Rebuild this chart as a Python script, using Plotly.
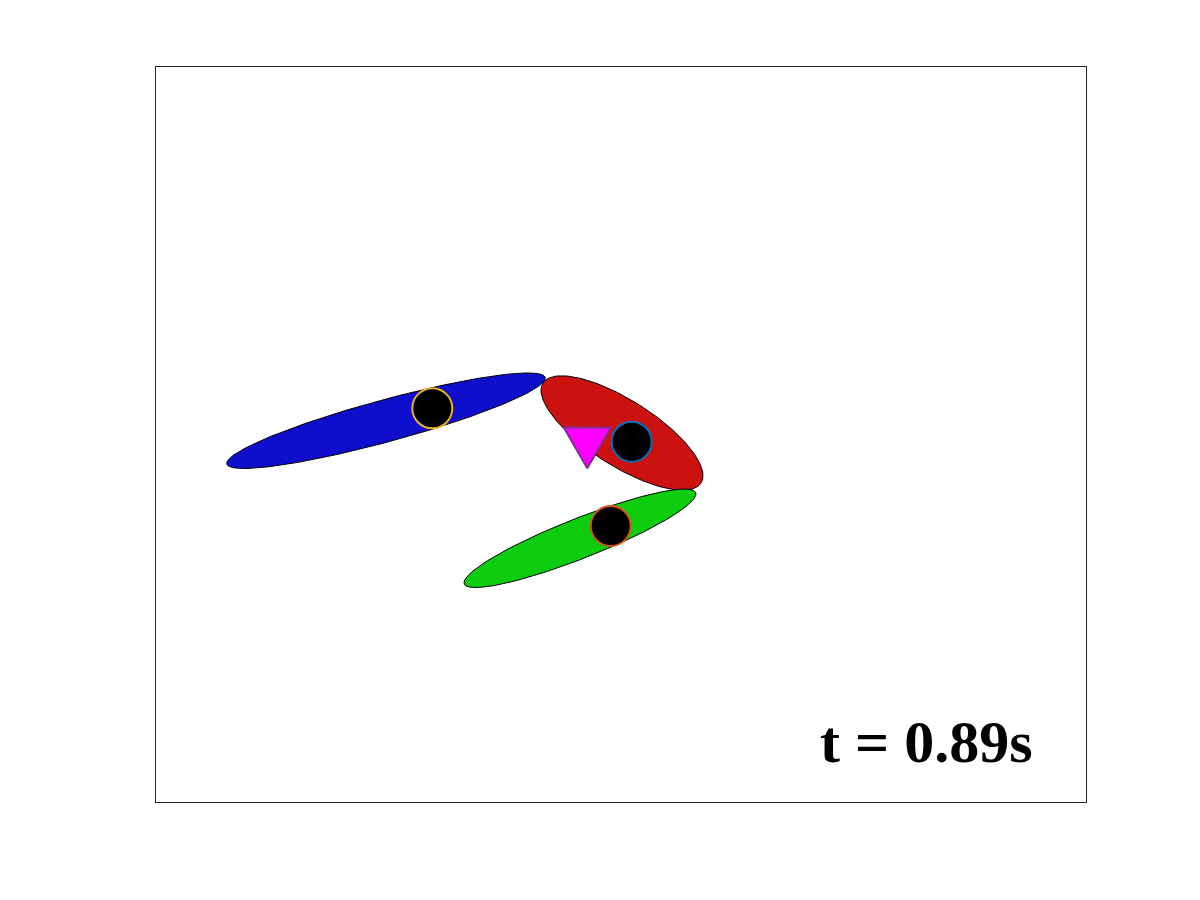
import numpy as np
import plotly.graph_objects as go

# link ellipses (centre x, centre y, semi-major, semi-minor, angle deg)
link_names = ["red", "blue", "green"]
link_cx = [4.66, 2.30, 4.24]
link_cy = [3.69, 3.813, 2.637]
link_a = [0.935, 1.65, 1.244]
link_b = [0.33, 0.21, 0.20]
link_ang = [-32.3, 15.2, 21.5]
link_fill = ["#cc1111", "#0e0ecc", "#0ecc0e"]

# joint markers
joint_x = [2.763, 4.757, 4.547]
joint_y = [3.937, 3.603, 2.760]
joint_edge = ["#EDB120", "#0072BD", "#D95319"]

# target (triangle)
target_x = 4.313
target_y = 3.610
target_side = 0.47

time_label = "t = 0.89s"

fig = go.Figure()

th = np.linspace(0, 2 * np.pi, 200)
for i in range(len(link_names)):
    ang = np.deg2rad(link_ang[i])
    ex = link_a[i] * np.cos(th)
    ey = link_b[i] * np.sin(th)
    xs = link_cx[i] + ex * np.cos(ang) - ey * np.sin(ang)
    ys = link_cy[i] + ex * np.sin(ang) + ey * np.cos(ang)
    fig.add_trace(go.Scatter(
        x=xs, y=ys, mode='lines', fill='toself',
        fillcolor=link_fill[i],
        line=dict(color='black', width=1),
        hoverinfo='skip', name=link_names[i]))

fig.add_trace(go.Scatter(
    x=joint_x, y=joint_y, mode='markers',
    marker=dict(size=40, color='black',
                line=dict(color=joint_edge, width=2)),
    hoverinfo='skip'))

# equilateral triangle pointing down
h = target_side * np.sqrt(3) / 2
tri_x = [target_x - target_side / 2, target_x + target_side / 2, target_x, target_x - target_side / 2]
tri_y = [target_y + h / 3, target_y + h / 3, target_y - 2 * h / 3, target_y + h / 3]
fig.add_trace(go.Scatter(
    x=tri_x, y=tri_y, mode='lines', fill='toself',
    fillcolor='#ff00ff', line=dict(color='#7E2F8E', width=2),
    hoverinfo='skip'))

fig.add_annotation(
    x=7.70, y=0.60, text="<b>" + time_label + "</b>", showarrow=False,
    font=dict(family="Liberation Serif", size=60, color='black'))

axis_style = dict(showgrid=False, zeroline=False, showticklabels=False,
                  ticks='', showline=True, mirror=True,
                  linecolor='#262626', linewidth=1)

# page body adds an 8px offset, so margins are shifted by that
fig.update_layout(
    width=1200, height=900,
    margin=dict(l=148, r=122, t=59, b=106),
    paper_bgcolor='white', plot_bgcolor='white',
    showlegend=False,
    xaxis=dict(range=[0, 9.3], **axis_style),
    yaxis=dict(range=[0, 7.35], **axis_style),
)

fig.write_html("out.html")
